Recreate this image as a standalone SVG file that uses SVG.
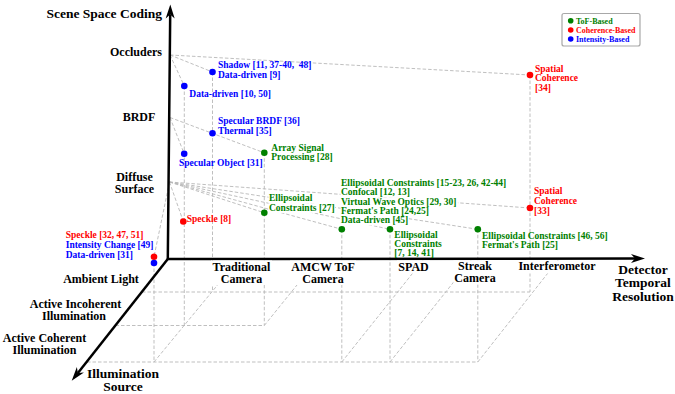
<svg xmlns="http://www.w3.org/2000/svg" width="675" height="394" viewBox="0 0 675 394">
<defs>
<style>
.ax{stroke:#000;stroke-width:2.5;fill:none}
.g{stroke:#b8b8b8;stroke-width:0.9;stroke-dasharray:3.5 2;fill:none}
.lab{font-family:"Liberation Serif","Times New Roman",serif;font-weight:bold;fill:#000;text-anchor:middle}
.t12{font-size:12px}
.t13{font-size:13.5px}
.d{font-family:"Liberation Serif","Times New Roman",serif;font-weight:bold;font-size:9.5px}
.lg{font-family:"Liberation Serif","Times New Roman",serif;font-weight:bold;font-size:8px}
.gr{fill:#008000}
.rd{fill:#ff0000}
.bl{fill:#0000ff}
.bg{fill:#fff;stroke:none}
</style>
<marker id="ah" markerUnits="userSpaceOnUse" markerWidth="16" markerHeight="12" viewBox="-1 -6 16 12" refX="4" refY="0" orient="auto-start-reverse">
<path d="M0,-4.5 L14,0 L0,4.5 L4,0 Z" fill="#000"/>
</marker>
</defs>
<rect width="675" height="394" fill="#fff"/>

<g id="connectors">
<line class="g" x1="170" y1="55" x2="212.5" y2="72"/>
<line class="g" x1="170" y1="55" x2="184.3" y2="86"/>
<line class="g" x1="170" y1="55" x2="530" y2="75"/>
<line class="g" x1="170" y1="117.5" x2="264.3" y2="152.8"/>
<line class="g" x1="170" y1="117.5" x2="184.2" y2="153.8"/>
<line class="g" x1="169.5" y1="182" x2="183.3" y2="221.5"/>
<line class="g" x1="169.5" y1="182" x2="264.3" y2="212.8"/>
<line class="g" x1="169.5" y1="182" x2="341.8" y2="229.3"/>
<line class="g" x1="169.5" y1="182" x2="390" y2="229.3"/>
<line class="g" x1="169.5" y1="182" x2="477.8" y2="229.3"/>
<line class="g" x1="169.5" y1="182" x2="530" y2="208"/>
<line class="g" x1="169.5" y1="182" x2="154" y2="256.8"/>
<line class="g" x1="212.5" y1="72" x2="212.5" y2="292"/>
<line class="g" x1="184.3" y1="86" x2="184.3" y2="325.5"/>
<line class="g" x1="264.3" y1="152.8" x2="264.3" y2="325.5"/>
<line class="g" x1="154" y1="263" x2="154" y2="362"/>
<line class="g" x1="341.8" y1="229.3" x2="341.8" y2="362"/>
<line class="g" x1="390" y1="229.3" x2="390" y2="362"/>
<line class="g" x1="477.8" y1="229.3" x2="477.8" y2="362"/>
<line class="g" x1="530" y1="75" x2="530" y2="292"/>
<line class="g" x1="142" y1="292" x2="530" y2="292"/>
<line class="g" x1="115.5" y1="325.5" x2="264.3" y2="325.5"/>
<line class="g" x1="87" y1="362" x2="477.8" y2="362"/>
<line class="g" x1="154" y1="362" x2="239" y2="259"/>
<line class="g" x1="264.3" y1="325.5" x2="318" y2="259"/>
<line class="g" x1="341.8" y1="362" x2="424" y2="259"/>
<line class="g" x1="390" y1="362" x2="472" y2="259"/>
<line class="g" x1="477.8" y1="362" x2="559" y2="259"/>
</g>

<g id="axes">
<path class="ax" d="M170.2,14.5 L167.8,259 L635,258.5" marker-start="url(#ah)" marker-end="url(#ah)"/>
<line class="ax" x1="167.8" y1="259" x2="77.9" y2="372.9" marker-end="url(#ah)"/>
</g>

<g id="axis-labels">
<text class="lab t13" x="162" y="17.7" style="text-anchor:end">Scene Space Coding</text>
<text class="lab t12" x="136" y="56.2">Occluders</text>
<text class="lab t12" x="139" y="121.2">BRDF</text>
<text class="lab t12" x="134.5" y="181.2">Diffuse</text>
<text class="lab t12" x="134.5" y="193.2">Surface</text>
<text class="lab t12" x="101" y="283.2">Ambient Light</text>
<text class="lab t12" x="75.5" y="307.5">Active Incoherent</text>
<text class="lab t12" x="74" y="320.2">Illumination</text>
<text class="lab t12" x="44.5" y="342.2">Active Coherent</text>
<text class="lab t12" x="44.5" y="354.2">Illumination</text>
<text class="lab t13" x="123" y="378">Illumination</text>
<text class="lab t13" x="123" y="391">Source</text>

<rect class="bg" x="211" y="260.5" width="61" height="24.5"/>
<text class="lab t12" x="241.5" y="271.2">Traditional</text>
<text class="lab t12" x="241.5" y="283.2">Camera</text>
<rect class="bg" x="290" y="260.5" width="66" height="24.5"/>
<text class="lab t12" x="323" y="270.5">AMCW ToF</text>
<text class="lab t12" x="323" y="283">Camera</text>
<rect class="bg" x="397" y="260.5" width="33" height="13"/>
<text class="lab t12" x="413.5" y="270.5">SPAD</text>
<rect class="bg" x="453.5" y="260.5" width="43" height="24"/>
<text class="lab t12" x="475" y="270.2">Streak</text>
<text class="lab t12" x="475" y="282.2">Camera</text>
<rect class="bg" x="517.5" y="260.5" width="79" height="13"/>
<text class="lab t12" x="557" y="269.5">Interferometor</text>
<text class="lab t13" x="643" y="273.5">Detector</text>
<text class="lab t13" x="643" y="287">Temporal</text>
<text class="lab t13" x="643" y="300.5">Resolution</text>
</g>

<g id="legend">
<rect x="562" y="13.5" width="78" height="32.5" rx="2" fill="#fff" stroke="#a8a8a8" stroke-width="1.2"/>
<circle cx="570.7" cy="20.7" r="2.8" class="gr"/>
<text class="lg gr" x="576" y="23.5">ToF-Based</text>
<circle cx="570.7" cy="30" r="2.8" class="rd"/>
<text class="lg rd" x="576" y="32.8">Coherence-Based</text>
<circle cx="570.7" cy="39" r="2.8" class="bl"/>
<text class="lg bl" x="576" y="41.8">Intensity-Based</text>
</g>

<g id="n-shadow">
<text class="d bl" x="218" y="68.3" xml:space="preserve">Shadow [11, 37-40,  48]</text>
<text class="d bl" x="218" y="78">Data-driven [9]</text>
<circle cx="212.5" cy="72" r="3.3" class="bl"/>
</g>
<g id="n-datadriven-10-50">
<text class="d bl" x="189.3" y="96.6">Data-driven [10, 50]</text>
<circle cx="184.3" cy="86" r="3.3" class="bl"/>
</g>
<g id="n-specular-brdf">
<text class="d bl" x="218" y="124.3">Specular BRDF [36]</text>
<text class="d bl" x="218" y="134">Thermal [35]</text>
<circle cx="212.5" cy="133.3" r="3.3" class="bl"/>
</g>
<g id="n-specular-object">
<text class="d bl" x="179" y="166.3">Specular Object [31]</text>
<circle cx="184.2" cy="153.8" r="3.3" class="bl"/>
</g>
<g id="n-array-signal">
<rect class="bg" x="270.8" y="143.4" width="53.5" height="9.4"/>
<rect class="bg" x="270.8" y="152.8" width="62.5" height="9.4"/>
<text class="d gr" x="271.3" y="150.6">Array Signal</text>
<text class="d gr" x="271.3" y="160">Processing [28]</text>
<circle cx="264.3" cy="152.8" r="3.3" class="gr"/>
</g>
<g id="n-ellipsoidal-27">
<rect class="bg" x="268.5" y="193.8" width="44.3" height="9.5"/>
<rect class="bg" x="268.5" y="203.3" width="66.7" height="9.6"/>
<text class="d gr" x="269" y="201">Ellipsoidal</text>
<text class="d gr" x="269" y="210.6">Constraints [27]</text>
<circle cx="264.3" cy="212.8" r="3.3" class="gr"/>
</g>
<g id="n-speckle-8">
<text class="d rd" x="186.7" y="222">Speckle [8]</text>
<circle cx="183.3" cy="221.5" r="3.3" class="rd"/>
</g>
<g id="n-spad-coherent">
<rect class="bg" x="340.5" y="178.8" width="166" height="9.3"/>
<rect class="bg" x="340.5" y="188.1" width="70" height="9.3"/>
<rect class="bg" x="340.5" y="197.4" width="117.4" height="9.4"/>
<rect class="bg" x="340.5" y="206.8" width="88.9" height="9.3"/>
<rect class="bg" x="340.5" y="216.1" width="68.3" height="9.4"/>
<text class="d gr" x="341" y="186">Ellipsoidal Constraints [15-23, 26, 42-44]</text>
<text class="d gr" x="341" y="195.3">Confocal [12, 13]</text>
<text class="d gr" x="341" y="204.6">Virtual Wave Optics [29, 30]</text>
<text class="d gr" x="341" y="214">Fermat's Path [24,25]</text>
<text class="d gr" x="341" y="223.3">Data-driven [45]</text>
<circle cx="341.8" cy="229.3" r="3.3" class="gr"/>
</g>
<g id="n-streak-coherent">
<text class="d gr" x="394.3" y="237.6">Ellipsoidal</text>
<text class="d gr" x="394.3" y="247.3">Constraints</text>
<text class="d gr" x="394.3" y="256">[7, 14, 41]</text>
<circle cx="390" cy="229.3" r="3.3" class="gr"/>
</g>
<g id="n-interf-coherent">
<text class="d gr" x="482" y="239">Ellipsoidal Constraints [46, 56]</text>
<text class="d gr" x="482" y="248.3">Fermat's Path [25]</text>
<circle cx="477.8" cy="229.3" r="3.3" class="gr"/>
</g>
<g id="n-spatial-34">
<text class="d rd" x="535" y="71.6">Spatial</text>
<text class="d rd" x="535" y="81.3">Coherence</text>
<text class="d rd" x="535" y="90.6">[34]</text>
<circle cx="530" cy="75" r="3.3" class="rd"/>
</g>
<g id="n-spatial-33">
<text class="d rd" x="534" y="194.3">Spatial</text>
<text class="d rd" x="534" y="204">Coherence</text>
<text class="d rd" x="534" y="213.6">[33]</text>
<circle cx="530" cy="208" r="3.3" class="rd"/>
</g>
<g id="n-ambient-coherent">
<text class="d rd" x="65.7" y="238.3">Speckle [32, 47, 51]</text>
<text class="d bl" x="65.7" y="248.3">Intensity Change [49]</text>
<text class="d bl" x="65.7" y="257.6">Data-driven [31]</text>
<circle cx="154" cy="256.8" r="3.3" class="rd"/>
<circle cx="154" cy="263" r="3.3" class="bl"/>
</g>
</svg>
